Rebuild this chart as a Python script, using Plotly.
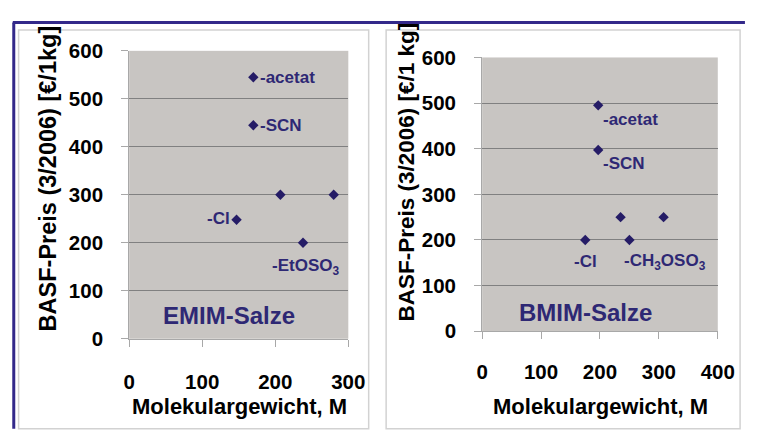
import plotly.graph_objects as go

W, H = 760, 435

# ---- data ----
emim_mw = [170, 170, 207, 280, 147, 238]
emim_price = [545, 445, 300, 300, 248, 200]
emim_labels = ["-acetat", "-SCN", "", "", "-Cl", "-EtOSO<sub>3</sub>"]

bmim_mw = [197, 197, 235, 308, 175, 250]
bmim_price = [495, 397, 250, 250, 200, 200]
bmim_labels = ["-acetat", "-SCN", "", "", "-Cl", "-CH<sub>3</sub>OSO<sub>3</sub>"]

x_ticks_left = [0, 100, 200, 300]
x_ticks_right = [0, 100, 200, 300, 400]
y_ticks = [0, 100, 200, 300, 400, 500, 600]

NAVY = "#33298a"
MARK = "#251c66"
TXT = "#2e2874"
FONT = "Liberation Sans, Arial, sans-serif"

def px(x):
    return x / W

def py(y):
    return 1 - y / H

def b(t):
    return "<b>" + str(t) + "</b>"

fig = go.Figure()
fig.add_trace(go.Scatter(x=emim_mw, y=emim_price, mode="markers",
                         marker=dict(symbol="diamond", size=8, color=MARK),
                         xaxis="x", yaxis="y", showlegend=False))
fig.add_trace(go.Scatter(x=bmim_mw, y=bmim_price, mode="markers",
                         marker=dict(symbol="diamond", size=8, color=MARK),
                         xaxis="x2", yaxis="y2", showlegend=False))

axis_common = dict(
    showline=True, linecolor="#a8a8a8", linewidth=1,
    ticks="outside", ticklen=7, tickcolor="#a8a8a8",
    tickfont=dict(family=FONT, size=20.5, color="black"),
    zeroline=False, fixedrange=True,
)
grid = dict(showgrid=True, gridcolor="#808080", gridwidth=1)

fig.update_layout(
    width=W, height=H, margin=dict(l=0, r=0, t=0, b=0),
    paper_bgcolor="white", plot_bgcolor="#c8c5c2",
    xaxis=dict(domain=[px(127), px(353)], range=[0, 300], tickvals=x_ticks_left,
               ticktext=[b(v) for v in x_ticks_left],
               anchor="y", showgrid=False, ticklabelstandoff=18, **axis_common),
    yaxis=dict(domain=[py(345), py(41)], range=[0, 600], tickvals=y_ticks,
               ticktext=[b(v) for v in y_ticks],
               anchor="x", ticklabelstandoff=14, **grid, **axis_common),
    xaxis2=dict(domain=[px(491), px(734)], range=[0, 400], tickvals=x_ticks_right,
                ticktext=[b(v) for v in x_ticks_right],
                anchor="y2", showgrid=False, ticklabelstandoff=15, **axis_common),
    yaxis2=dict(domain=[py(337), py(48)], range=[0, 600], tickvals=y_ticks,
                ticktext=[b(v) for v in y_ticks],
                anchor="x2", ticklabelstandoff=14, **grid, **axis_common),
)

ann = []
lab_font = dict(family=FONT, size=17, color=TXT)

emim_style = [
    dict(xanchor="left", yanchor="middle", xshift=5, yshift=0),
    dict(xanchor="left", yanchor="middle", xshift=5, yshift=0),
    None, None,
    dict(xanchor="right", yanchor="middle", xshift=-5, yshift=1),
    dict(xanchor="center", yanchor="middle", xshift=2, yshift=-24),
]
for xv, yv, t, st in zip(emim_mw, emim_price, emim_labels, emim_style):
    if t and st:
        ann.append(dict(x=xv, y=yv, xref="x", yref="y", text=b(t), showarrow=False,
                        font=lab_font, **st))

bmim_style = [
    dict(xanchor="left", yanchor="middle", xshift=3, yshift=-14),
    dict(xanchor="left", yanchor="middle", xshift=3, yshift=-13),
    None, None,
    dict(xanchor="center", yanchor="middle", xshift=0, yshift=-22),
    dict(xanchor="left", yanchor="middle", xshift=-7, yshift=-22),
]
for xv, yv, t, st in zip(bmim_mw, bmim_price, bmim_labels, bmim_style):
    if t and st:
        ann.append(dict(x=xv, y=yv, xref="x2", yref="y2", text=b(t), showarrow=False,
                        font=lab_font, **st))

big = dict(family=FONT, size=24, color=TXT)
ann.append(dict(x=px(230), y=py(320), xref="paper", yref="paper", text=b("EMIM-Salze"),
                showarrow=False, font=big, xanchor="center", yanchor="middle"))
ann.append(dict(x=px(598), y=py(317), xref="paper", yref="paper", text=b("BMIM-Salze"),
                showarrow=False, font=big, xanchor="center", yanchor="middle"))

title_font = dict(family=FONT, size=22, color="black")
ann.append(dict(x=px(241), y=py(417), xref="paper", yref="paper",
                text=b("Molekulargewicht, M"), showarrow=False, font=title_font,
                xanchor="center", yanchor="middle"))
ann.append(dict(x=px(613), y=py(417), xref="paper", yref="paper",
                text=b("Molekulargewicht, M"), showarrow=False, font=title_font,
                xanchor="center", yanchor="middle"))

ann.append(dict(x=px(43), y=py(176), xref="paper", yref="paper",
                text=b("BASF-Preis (3/2006) [€/1kg]"), showarrow=False,
                font=dict(family=FONT, size=23.5, color="black"),
                textangle=-90, xanchor="center", yanchor="middle"))
ann.append(dict(x=px(413), y=py(169), xref="paper", yref="paper",
                text=b("BASF-Preis (3/2006) [€/1 kg]"), showarrow=False,
                font=dict(family=FONT, size=22.5, color="black"),
                textangle=-90, xanchor="center", yanchor="middle"))

shapes = [
    dict(type="rect", xref="paper", yref="paper", x0=px(13), x1=px(374), y0=py(440), y1=py(19),
         line=dict(color="#d2d2d2", width=1.5), layer="below"),
    dict(type="rect", xref="paper", yref="paper", x0=px(392), x1=px(757), y0=py(440), y1=py(19),
         line=dict(color="#d2d2d2", width=1.5), layer="below"),
    dict(type="line", xref="paper", yref="paper", x0=px(7), x1=px(762), y0=py(11), y1=py(11),
         line=dict(color=NAVY, width=3)),
    dict(type="line", xref="paper", yref="paper", x0=px(8), x1=px(8), y0=py(11), y1=py(440),
         line=dict(color=NAVY, width=3)),
]

fig.update_layout(annotations=ann, shapes=shapes)
fig.write_html("out.html")
